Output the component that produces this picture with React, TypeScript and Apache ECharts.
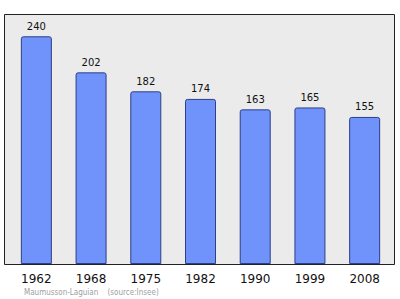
import React, { useEffect, useRef } from "react";
import * as echarts from "echarts";

const years = ["1962", "1968", "1975", "1982", "1990", "1999", "2008"];
const population = [240, 202, 182, 174, 163, 165, 155];
const footerText = "Maumusson-Laguian    (source:Insee)";

export default function App() {
  const ref = useRef<HTMLDivElement>(null);
  useEffect(() => {
    if (!ref.current) return;
    const chart = echarts.init(ref.current, null, { renderer: "svg" });
    chart.setOption({
      animation: false,
      backgroundColor: "#ffffff",
      grid: { left: 9, width: 383, top: 14, height: 250, containLabel: false },
      graphic: [
        {
          type: "rect",
          z: -10,
          shape: { x: 4.5, y: 14.5, width: 390, height: 250 },
          style: { fill: "#ebebeb", stroke: "#222", lineWidth: 1 },
          silent: true,
        },
        {
          type: "text",
          x: 24,
          y: 292,
          style: {
            text: footerText,
            fill: "#a0a0a0",
            font: "8px 'DejaVu Sans Condensed', 'DejaVu Sans', sans-serif",
            textVerticalAlign: "middle",
          },
        },
      ],
      xAxis: {
        type: "category",
        data: years,
        axisLine: { show: false },
        axisTick: { show: false },
        axisLabel: {
          color: "#111",
          fontSize: 12,
          fontFamily: "DejaVu Sans",
          margin: 9,
        },
      },
      yAxis: {
        type: "value",
        min: 0,
        max: 263.5,
        show: false,
        splitLine: { show: false },
      },
      series: [
        {
          type: "bar",
          data: population,
          barWidth: 31,
          itemStyle: {
            color: "#6f93fb",
            borderColor: "#2d3f86",
            borderWidth: 1,
            borderRadius: [2, 2, 0, 0],
          },
          label: {
            show: true,
            position: "top",
            distance: 5,
            color: "#111",
            fontSize: 10,
            fontFamily: "DejaVu Sans",
          },
        },
      ],
    });
    return () => chart.dispose();
  }, []);
  return <div ref={ref} style={{ width: 400, height: 299, position: "absolute", left: 0, top: 0 }} />;
}
